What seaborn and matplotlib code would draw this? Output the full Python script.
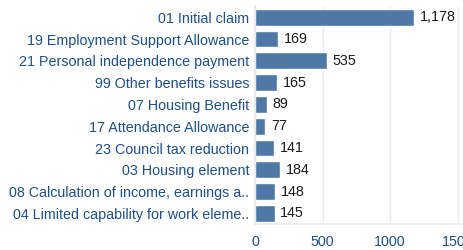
import matplotlib
matplotlib.use("Agg")
import matplotlib.pyplot as plt
import seaborn as sns
import pandas as pd

categories = [
    "01 Initial claim",
    "19 Employment Support Allowance",
    "21 Personal independence payment",
    "99 Other benefits issues",
    "07 Housing Benefit",
    "17 Attendance Allowance",
    "23 Council tax reduction",
    "03 Housing element",
    "08 Calculation of income, earnings a..",
    "04 Limited capability for work eleme..",
]
values = [1178, 169, 535, 165, 89, 77, 141, 184, 148, 145]
x_ticks = [0, 500, 1000, 1500]

df = pd.DataFrame({"category": categories, "value": values})

sns.set_theme(style="white")
plt.rcParams["font.family"] = ["Liberation Sans", "DejaVu Sans"]

fig = plt.figure(figsize=(4.64, 2.5), dpi=100)
ax = fig.add_axes([255 / 464, (250 - 224.3) / 250, (464 - 255) / 464, (224.3 - 6.4) / 250])

sns.barplot(data=df, x="value", y="category", orient="h", color="#4e79a7",
            saturation=1, width=0.77, ax=ax)

ax.set_xlim(0, 1548)
ax.set_ylim(9.5, -0.5)
ax.set_xticks(x_ticks)
ax.set_xticklabels([str(t) for t in x_ticks])
ax.set_xlabel("")
ax.set_ylabel("")
ax.grid(axis="x", color="#ebebeb", linewidth=1)
ax.set_axisbelow(True)
for s in ["top", "right"]:
    ax.spines[s].set_visible(False)
ax.spines["left"].set_color("#e6e6e6")
ax.spines["bottom"].set_color("#ebebeb")
ax.tick_params(axis="both", length=0, labelsize=10.3, colors="#1c4f8c")
ax.tick_params(axis="y", pad=4)
ax.tick_params(axis="x", pad=8)

for i, v in enumerate(values):
    ax.text(v + 42, i, f"{v:,}", va="center", ha="left", fontsize=10.3, color="#1a1a1a")

fig.savefig("out.png", dpi=100)
